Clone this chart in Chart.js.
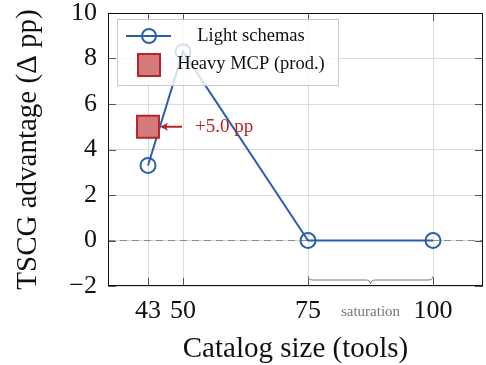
<!DOCTYPE html>
<html>
<head>
<meta charset="utf-8">
<script src="https://cdn.jsdelivr.net/npm/chart.js@4.4.0/dist/chart.umd.min.js"></script>
<style>
  html, body { margin: 0; padding: 0; background: #fff; }
  #wrap { width: 486px; height: 365px; }
</style>
</head>
<body>
<div id="wrap"><canvas id="myChart"></canvas></div>
<script>
const catalogSizes = [43, 50, 75, 100];
const lightSchemas = [3.3, 8.3, 0, 0];
const heavyX = [43];
const heavyMcp = [5.0];
const xTicks = [43, 50, 75, 100];
const yTicks = [-2, 0, 2, 4, 6, 8, 10];

const blue = "#2c5fab";
const red = "#b82326";
const redFill = "#d57b7b";
const serif = "'Liberation Serif', 'DejaVu Serif', serif";

const extras = {
  id: "extras",
  beforeDatasetsDraw(chart) {
    const { ctx, chartArea: a, scales: { y } } = chart;
    ctx.save();
    // dashed zero line
    ctx.strokeStyle = "#8a8a8a";
    ctx.lineWidth = 1;
    ctx.setLineDash([7, 5]);
    ctx.beginPath();
    ctx.moveTo(a.left, y.getPixelForValue(0));
    ctx.lineTo(a.right, y.getPixelForValue(0));
    ctx.stroke();
    ctx.restore();
  },
  afterDatasetsDraw(chart) {
    const { ctx, chartArea: a, scales: { x, y } } = chart;
    ctx.save();
    // inside ticks on all sides
    ctx.strokeStyle = "#555";
    ctx.lineWidth = 1;
    const tl = 8;
    ctx.beginPath();
    xTicks.forEach(v => {
      const px = Math.round(x.getPixelForValue(v)) + 0.5;
      ctx.moveTo(px, a.bottom); ctx.lineTo(px, a.bottom - tl);
      ctx.moveTo(px, a.top); ctx.lineTo(px, a.top + tl);
    });
    yTicks.forEach(v => {
      const py = Math.round(y.getPixelForValue(v)) + 0.5;
      ctx.moveTo(a.left, py); ctx.lineTo(a.left + tl, py);
      ctx.moveTo(a.right, py); ctx.lineTo(a.right - tl, py);
    });
    ctx.stroke();
    // frame
    ctx.strokeStyle = "#111";
    ctx.strokeRect(a.left + 0.5, a.top + 0.5, a.right - a.left - 1, a.bottom - a.top - 1);

    // annotation arrow to heavy point
    const hx = x.getPixelForValue(heavyX[0]);
    const hy = y.getPixelForValue(heavyMcp[0]);
    ctx.strokeStyle = red;
    ctx.fillStyle = red;
    ctx.lineWidth = 2;
    ctx.beginPath();
    ctx.moveTo(hx + 34, hy);
    ctx.lineTo(hx + 16, hy);
    ctx.stroke();
    ctx.beginPath();
    ctx.moveTo(hx + 12, hy);
    ctx.lineTo(hx + 20, hy - 4);
    ctx.lineTo(hx + 18, hy);
    ctx.lineTo(hx + 20, hy + 4);
    ctx.closePath();
    ctx.fill();
    ctx.font = "19px " + serif;
    ctx.textBaseline = "middle";
    ctx.textAlign = "left";
    ctx.fillText("+5.0 pp", hx + 47, hy);

    // saturation brace
    const b0 = x.getPixelForValue(75), b1 = x.getPixelForValue(100);
    const by = a.bottom - 6, mid = (b0 + b1) / 2;
    ctx.strokeStyle = "#777";
    ctx.lineWidth = 1;
    ctx.beginPath();
    ctx.moveTo(b0, by - 4);
    ctx.quadraticCurveTo(b0, by, b0 + 5, by);
    ctx.lineTo(mid - 5, by);
    ctx.quadraticCurveTo(mid, by, mid, by + 4);
    ctx.quadraticCurveTo(mid, by, mid + 5, by);
    ctx.lineTo(b1 - 5, by);
    ctx.quadraticCurveTo(b1, by, b1, by - 4);
    ctx.stroke();
    ctx.fillStyle = "#777";
    ctx.font = "15px " + serif;
    ctx.textAlign = "center";
    ctx.fillText("saturation", mid, a.bottom + 26);

    // legend
    const lx = a.left + 9, ly = a.top + 6, lw = 221, lh = 66;
    ctx.fillStyle = "rgba(255,255,255,0.8)";
    ctx.fillRect(lx, ly, lw, lh);
    ctx.strokeStyle = "#c8c8c8";
    ctx.strokeRect(lx + 0.5, ly + 0.5, lw, lh);
    const r1 = ly + 17, r2 = ly + 46;
    ctx.strokeStyle = blue;
    ctx.lineWidth = 2;
    ctx.beginPath();
    ctx.moveTo(lx + 9, r1); ctx.lineTo(lx + 54, r1);
    ctx.stroke();
    ctx.beginPath();
    ctx.arc(lx + 32, r1, 7, 0, Math.PI * 2);
    ctx.stroke();
    ctx.fillStyle = redFill;
    ctx.strokeStyle = red;
    ctx.fillRect(lx + 21, r2 - 11, 22, 22);
    ctx.strokeRect(lx + 21, r2 - 11, 22, 22);
    ctx.fillStyle = "#111";
    ctx.font = "18.5px " + serif;
    ctx.textAlign = "center";
    ctx.fillText(chart.data.datasets[0].label, lx + 134, r1);
    ctx.fillText(chart.data.datasets[1].label, lx + 134, r2 - 1);
    ctx.restore();
  }
};

const data = {
  datasets: [
    {
      label: "Light schemas",
      data: catalogSizes.map((c, i) => ({ x: c, y: lightSchemas[i] })),
      borderColor: blue,
      backgroundColor: "rgba(0,0,0,0)",
      borderWidth: 2,
      pointRadius: 7.5,
      pointBorderWidth: 2,
      pointBorderColor: blue,
      pointBackgroundColor: "rgba(0,0,0,0)",
      showLine: true,
      tension: 0,
      order: 2
    },
    {
      label: "Heavy MCP (prod.)",
      data: heavyX.map((c, i) => ({ x: c, y: heavyMcp[i] })),
      pointStyle: "rect",
      pointRadius: 15.5,
      pointBorderWidth: 2,
      pointBorderColor: red,
      pointBackgroundColor: redFill,
      showLine: false,
      order: 1
    }
  ]
};

// keep the plot box fixed: no extra room for edge labels
const fixX = s => { s.height = 79; s.paddingLeft = 0; s.paddingRight = 0; };
const fixY = s => { s.width = 108; s.paddingTop = 0; s.paddingBottom = 0; };

const config = {
  type: "scatter",
  data: data,
  options: {
    responsive: false,
    animation: false,
    layout: { autoPadding: false, padding: { left: 0, right: 3, top: 13, bottom: 0 } },
    plugins: {
      legend: { display: false },
      tooltip: { enabled: false }
    },
    scales: {
      x: {
        type: "linear",
        min: 35,
        max: 110,
        afterBuildTicks: s => { s.ticks = xTicks.map(v => ({ value: v })); },
        afterFit: fixX,
        grid: { color: "#dcdcdc", drawTicks: false },
        border: { display: false },
        ticks: { color: "#111", font: { family: serif, size: 26 }, padding: 10, maxRotation: 0, autoSkip: false },
        title: { display: true, text: "Catalog size (tools)", color: "#111", font: { family: serif, size: 29 }, padding: { top: 0, bottom: -2 } }
      },
      y: {
        min: -2,
        max: 10,
        afterBuildTicks: s => { s.ticks = yTicks.map(v => ({ value: v })); },
        afterFit: fixY,
        grid: { color: "#dcdcdc", drawTicks: false },
        border: { display: false },
        ticks: { color: "#111", font: { family: serif, size: 26 }, padding: 11,
          callback: v => v < 0 ? "\u2212" + Math.abs(v) : v },
        title: { display: true, text: "TSCG advantage (\u0394 pp)", color: "#111", font: { family: serif, size: 29 }, padding: { top: 11, bottom: 0 } }
      }
    }
  },
  plugins: [extras]
};

const canvas = document.getElementById("myChart");
canvas.width = 486;
canvas.height = 365;
new Chart(canvas.getContext("2d"), config);
</script>
</body>
</html>
